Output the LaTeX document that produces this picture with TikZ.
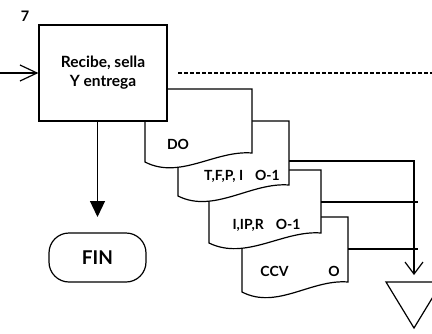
\documentclass[tikz,border=0pt]{standalone}
\usepackage{fontspec}
\setmainfont{Lato}
\usetikzlibrary{arrows.meta}
\begin{document}
\begin{tikzpicture}[x=1pt,y=-1pt, line width=1.2pt,
  lbl/.style={font=\bfseries\fontsize{14}{19}\selectfont, inner sep=0pt},
  docshape/.style={draw, fill=white, line join=miter}]
\useasboundingbox (0,0) rectangle (432,333);
\clip (0,0) rectangle (432,333);

% documents, back to front
\draw[docshape] (242,217) -- (348,217) -- (348,282) .. controls (311,279) and (277,310) .. (242,292) -- cycle;
\draw[docshape] (209,170) -- (321,170) -- (321,233) .. controls (283,230) and (246,261) .. (209,243) -- cycle;
\draw[docshape] (178,121) -- (289,121) -- (289,185) .. controls (251,182) and (214,214) .. (178,196) -- cycle;
\draw[docshape] (145,89) -- (252,89) -- (252,153) .. controls (215,150) and (180,180) .. (145,162) -- cycle;

% main process box
\node[draw, fill=white, minimum width=128pt, minimum height=96pt, align=center, lbl,
  font=\bfseries\fontsize{15.5}{19}\selectfont] (box) at (103,73)
  {Recibe, sella\\Y entrega};
\node[lbl, font=\bfseries\fontsize{14.5}{14}\selectfont] (num) at (25,16) {7};

% terminator
\node[draw, rounded corners=20pt, minimum width=97pt, minimum height=49pt, lbl, font=\bfseries\fontsize{19}{20}\selectfont] (fin) at (97.5,257.5) {FIN};

% document labels
\node[lbl] (doLbl) at (178,144) {DO};
\node[lbl] (tfpLbl) at (242,176) {T,F,P, I\hspace{12pt}O-1};
\node[lbl] (iipLbl) at (266.5,225) {I,IP,R\hspace{12pt}O-1};
\node[lbl] (ccvLbl) at (274.5,271.5) {CCV};
\node[lbl] (oLbl) at (334,271.5) {O};

% connection points
\coordinate (inStart) at (0,73);
\coordinate (dashS) at (178,73);
\coordinate (dashE) at (432,73);
\coordinate (finTip) at (97.5,217);
\coordinate (tOut) at (289,161);
\coordinate (iOut) at (321,202);
\coordinate (iEnd) at (418,202);
\coordinate (cOut) at (348,249);
\coordinate (cEnd) at (418,249);
\coordinate (archTip) at (414,275);

% connectors
\draw[-{Straight Barb[length=17pt,width=16pt]}] (inStart) -- (box.west);
\draw[dash pattern=on 3.5pt off 2.5pt] (dashS) -- (dashE);
\draw[-{Triangle[length=16pt,width=15pt]}] (box.south -| finTip) -- (finTip);
\draw[-{Straight Barb[length=12pt,width=18pt]}] (tOut) -| (archTip);
\draw (iOut) -- (iEnd);
\draw (cOut) -- (cEnd);

% archive triangle
\draw[line join=miter] (386,282) coordinate (archL) -- (442,282) coordinate (archR) -- (414,328) coordinate (archB) -- cycle;
\end{tikzpicture}
\end{document}
